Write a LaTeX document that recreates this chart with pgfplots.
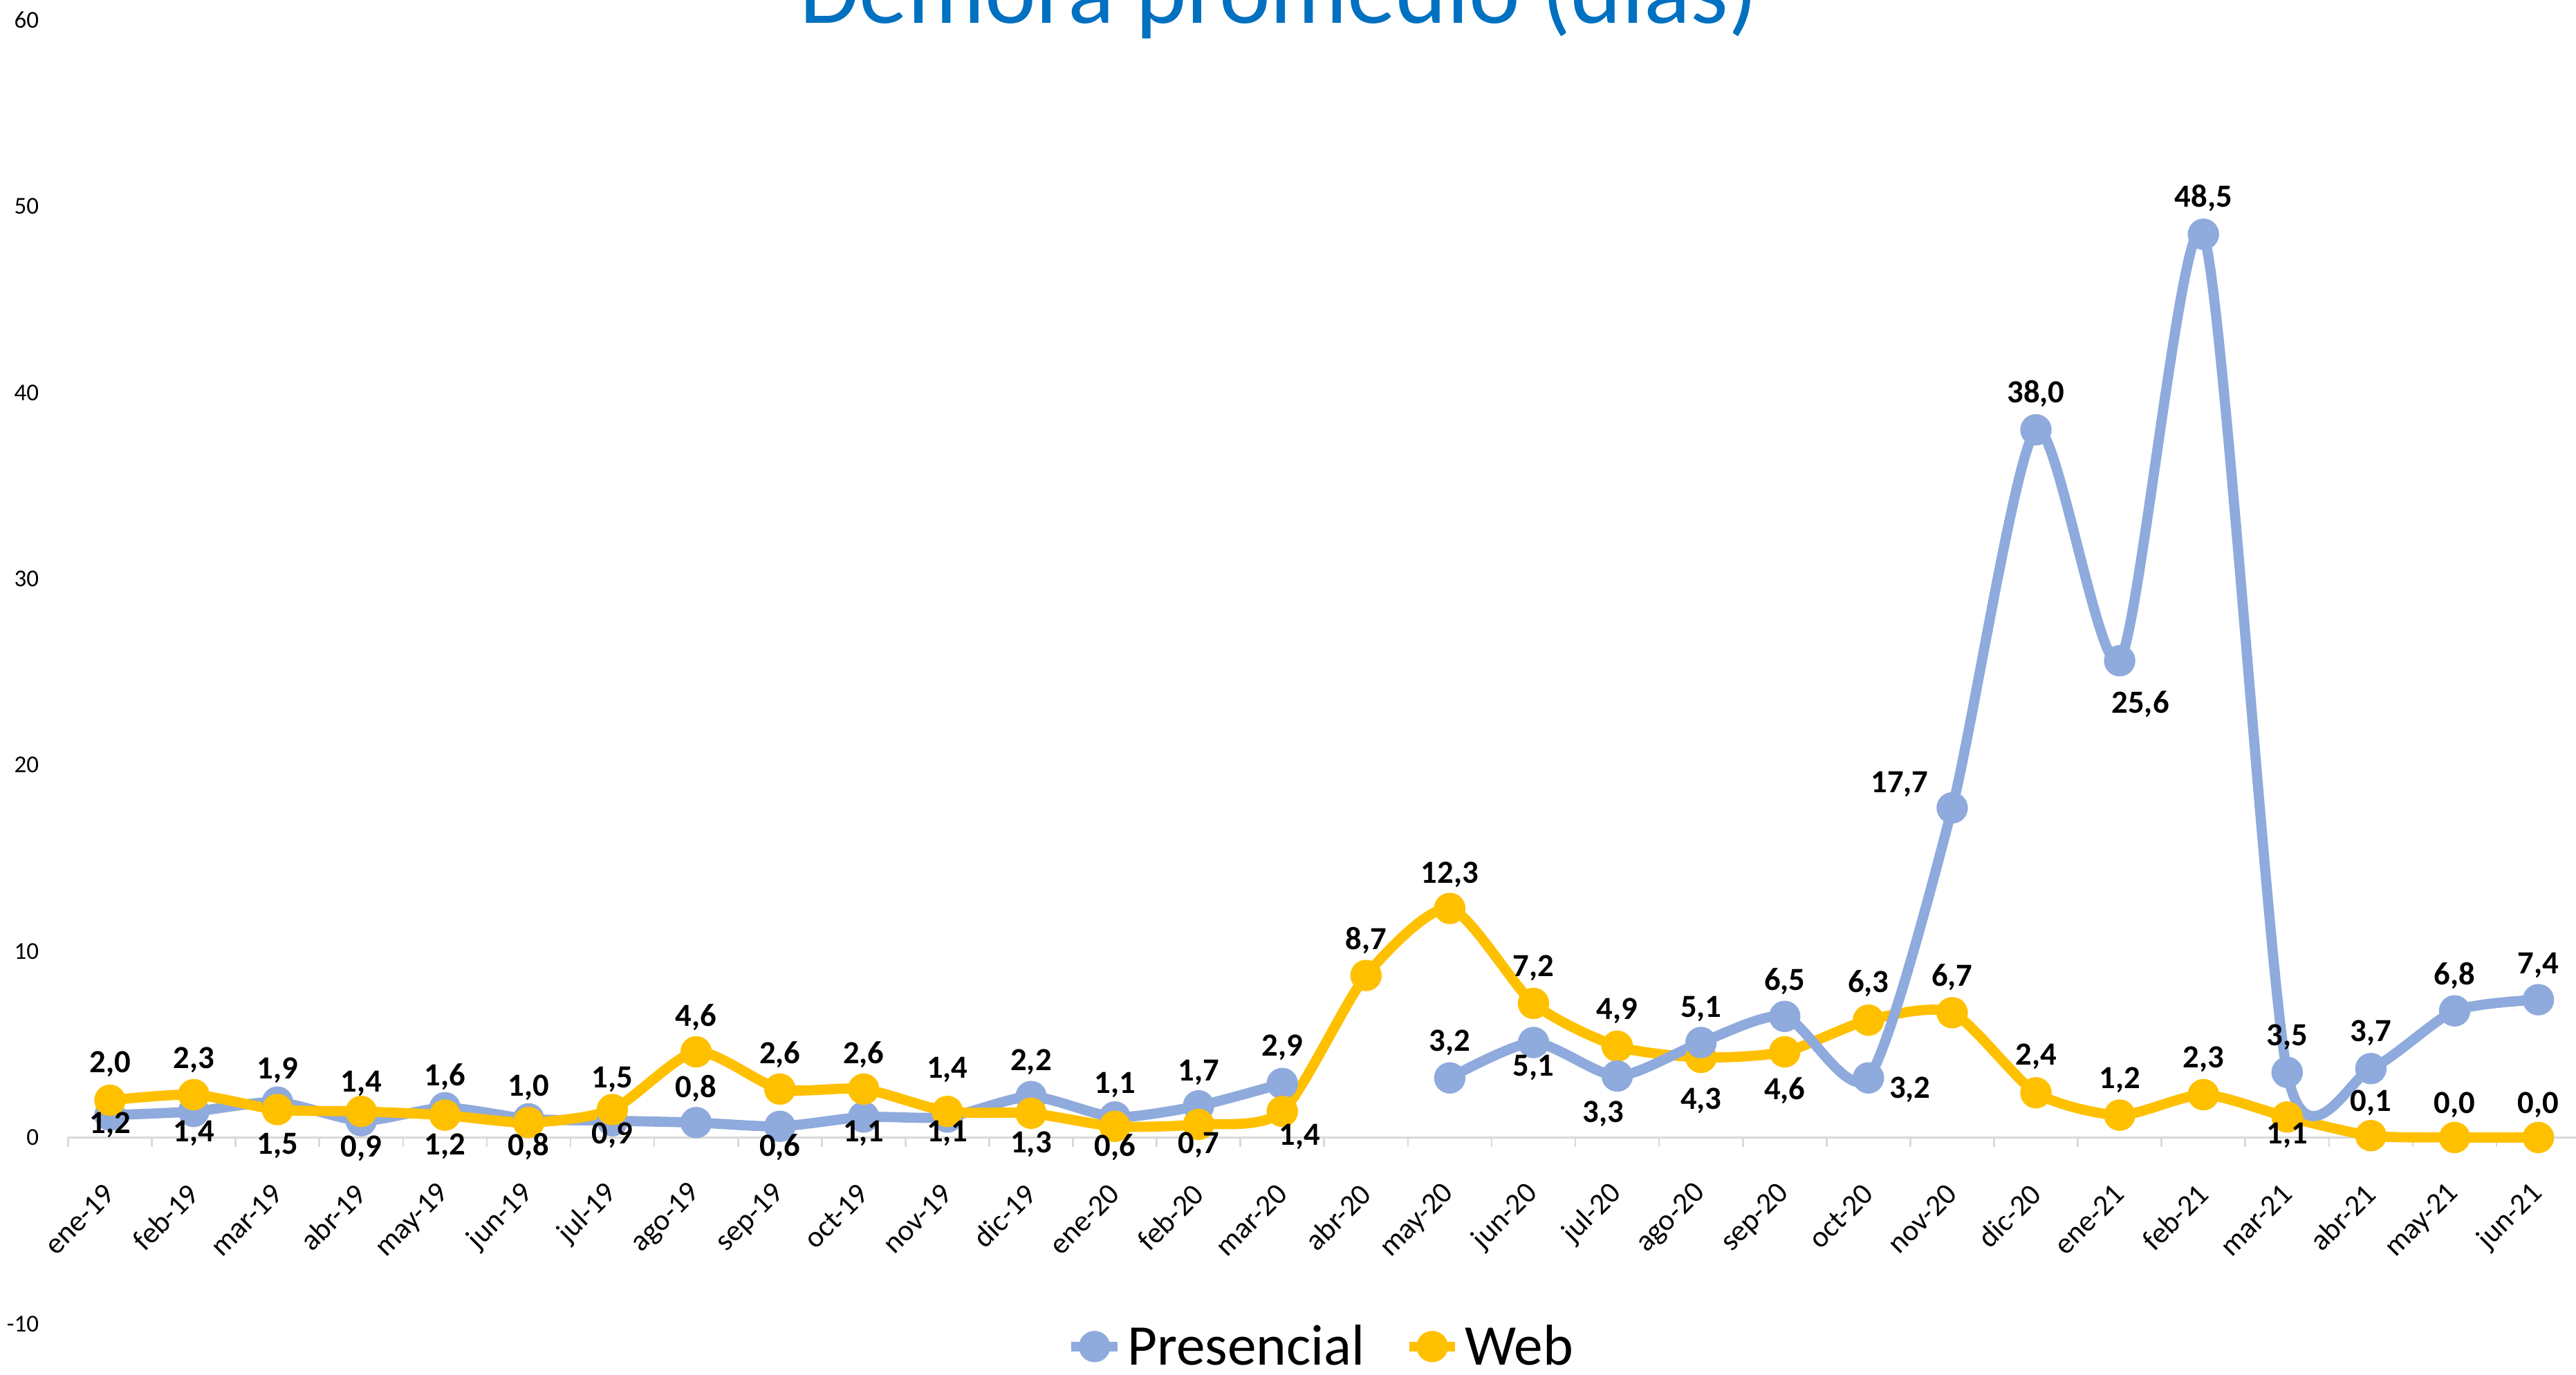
\documentclass[border=0pt]{standalone}
\usepackage{fontspec}
\setmainfont{Carlito}
\usepackage{pgfplots}
\usepackage{pgfplotstable}
\pgfplotsset{compat=1.18}

\definecolor{pres}{HTML}{8FAADC}
\definecolor{web}{HTML}{FFC000}
\definecolor{titleblue}{HTML}{0070C0}
\definecolor{axisgray}{HTML}{D9D9D9}

% x = month index, y = days, dx/dy = label offset in px of the reference
\pgfplotstableread{
x  y    dx  dy
0  1.2  0   -14
1  1.4  0   -32
2  1.9  0   46
3  0.9  0   -40
4  1.6  0   45
5  1.0  0   45
6  0.9  0   -21
7  0.8  0   49
8  0.6  0   -30
9  1.1  0   -24
10 1.1  0   -24
11 2.2  0   50
12 1.1  0   46
13 1.7  0   48
14 2.9  0   52
15 nan  0   0
16 3.2  0   51
17 5.1  0   -36
18 3.3  -20 -55
19 5.1  0   49
20 6.5  0   51
21 3.2  60  -17
22 17.7 -76 34
23 38.0 0   52
24 25.6 30  -63
25 48.5 0   52
26 3.5  0   51
27 3.7  0   51
28 6.8  0   51
29 7.4  0   50
}\presencial

\pgfplotstableread{
x  y    dx  dy
0  2.0  0   52
1  2.3  0   50
2  1.5  0   -52
3  1.4  0   40
4  1.2  0   -45
5  0.8  0   -35
6  1.5  0   44
7  4.6  0   50
8  2.6  0   50
9  2.6  0   50
10 1.4  0   60
11 1.3  0   -45
12 0.6  0   -30
13 0.7  0   -30
14 1.4  25  -37
15 8.7  0   51
16 12.3 0   49
17 7.2  0   51
18 4.9  0   51
19 4.3  0   -63
20 4.6  0   -56
21 6.3  0   53
22 6.7  0   51
23 2.4  0   52
24 1.2  0   51
25 2.3  0   51
26 1.1  0   -27
27 0.1  0   47
28 0.0  0   47
29 0.0  0   47
}\web

\pgfplotsset{
  serie/.style={color=#1, line width=4.4pt, smooth, tension=0.42,
    mark=*, mark size=4.6pt, mark options={draw=none, fill=#1}},
  etiquetas/.style={draw=none, mark=none, forget plot, point meta=y,
    nodes near coords={\pgfmathprintnumber[fixed,fixed zerofill,precision=1,use comma,assume math mode=true]{\pgfplotspointmeta}},
    visualization depends on={0.3*\thisrow{dx} \as \dx},
    visualization depends on={0.3*\thisrow{dy} \as \dy},
    every node near coord/.append style={font=\bfseries\fontsize{14}{16}\selectfont,
      text=black, anchor=center, inner sep=0pt, xshift=\dx pt, yshift=\dy pt}},
}

\begin{document}
\begin{tikzpicture}
\begin{axis}[
  scale only axis,
  width=1087.9pt, height=565.7pt,
  xmin=-0.5, xmax=29.45,
  ymin=-10, ymax=60,
  clip=false,
  axis x line=middle,
  axis y line=left,
  x axis line style={-, draw=axisgray, line width=0.8pt},
  y axis line style={draw=none},
  xtick={0,...,29},
  xticklabels={ene-19,feb-19,mar-19,abr-19,may-19,jun-19,jul-19,ago-19,sep-19,oct-19,nov-19,dic-19,
    ene-20,feb-20,mar-20,abr-20,may-20,jun-20,jul-20,ago-20,sep-20,oct-20,nov-20,dic-20,
    ene-21,feb-21,mar-21,abr-21,may-21,jun-21},
  major x tick style={draw=none},
  minor xtick={-0.5,0.5,...,29.5},
  minor x tick style={draw=axisgray, line width=0.8pt},
  minor tick length=4.2pt,
  xtick align=outside,
  ytick={-10,0,10,20,30,40,50,60},
  yticklabels={-10,0,10,20,30,40,50,60},
  ytick style={draw=none},
  hide obscured x ticks=false,
  hide obscured y ticks=false,
  xticklabel style={font=\fontsize{13}{15}\selectfont, inner sep=0pt, anchor=east, rotate=45},
  xticklabel shift=18pt,
  yticklabel style={font=\fontsize{10.5}{12}\selectfont, inner sep=0pt, anchor=east},
  yticklabel shift=10.4pt,
  legend style={at={(0.5,-0.0175)}, anchor=center, draw=none, fill=none,
    legend columns=2, font=\fontsize{25}{30}\selectfont,
    /tikz/every even column/.style={column sep=15pt}},
  legend image code/.code={\draw[mark repeat=2, mark phase=2, #1]
    plot coordinates {(0pt,0pt) (10pt,0pt) (20pt,0pt)};},
]
\addplot[serie=pres, restrict x to domain=0:14] table[x=x, y=y] {\presencial};
\addlegendentry{Presencial}
\addplot[serie=web] table[x=x, y=y] {\web};
\addlegendentry{Web}
\addplot[serie=pres, restrict x to domain=16:29, forget plot] table[x=x, y=y] {\presencial};

\addplot[etiquetas] table[x=x, y=y] {\presencial};
\addplot[etiquetas] table[x=x, y=y] {\web};

\node[anchor=base, font=\fontsize{42}{50}\selectfont, text=titleblue]
  at (axis cs:13.96,59.85) {Demora promedio (días)};

\coordinate (bbsw) at (axis cs:-1.3135,-12.747);
\coordinate (bbne) at (axis cs:29.45,61.08);
\end{axis}
\pgfresetboundingbox
\useasboundingbox (bbsw) rectangle (bbne);
\end{tikzpicture}
\end{document}
